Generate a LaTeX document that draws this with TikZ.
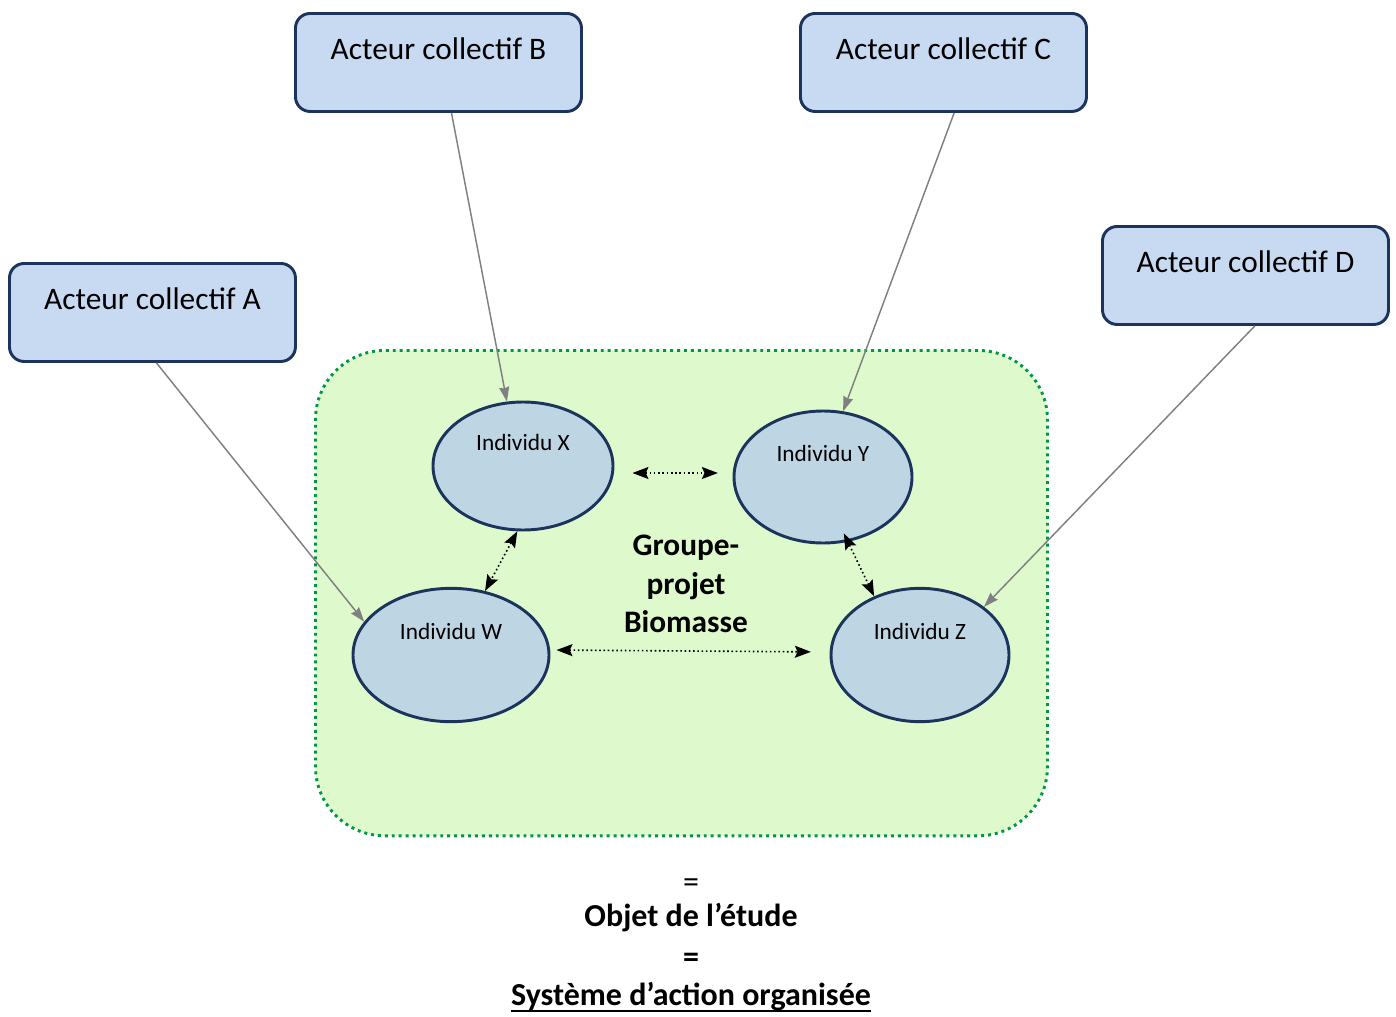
\documentclass[tikz,border=0pt]{standalone}
\usepackage{fontspec}
\setmainfont{Carlito}
\usetikzlibrary{shapes.geometric,arrows.meta}
\definecolor{acteurfill}{RGB}{200,218,242}
\definecolor{indivfill}{RGB}{190,213,228}
\definecolor{navy}{RGB}{28,52,92}
\definecolor{groupefill}{RGB}{222,250,205}
\definecolor{groupeline}{RGB}{0,150,70}
\definecolor{liengris}{RGB}{128,128,128}

\begin{document}
\begin{tikzpicture}[x=0.75pt,y=-0.75pt,
  acteur/.style={draw=navy,line width=2.2pt,fill=acteurfill,rounded corners=11pt,
    minimum width=214.5pt,inner xsep=0pt,inner ysep=0pt,text height=34.5pt,text depth=39pt,
    font=\fontsize{23.5}{28}\selectfont,anchor=north west},
  individu/.style={ellipse,draw=navy,line width=2.2pt,fill=indivfill,inner sep=0pt,
    text height=10pt,text depth=34pt,font=\fontsize{17.5}{21}\selectfont},
  lien/.style={draw=liengris,line width=1.1pt,-{Stealth[length=11pt,width=7.5pt,inset=1pt]}},
  echange/.style={dotted,line width=1.2pt,{Stealth[length=12pt,width=9pt,inset=2pt]}-{Stealth[length=12pt,width=9pt,inset=2pt]}},
  conclusion/.style={font=\bfseries\fontsize{24}{29}\selectfont,anchor=base}
  ]
  \useasboundingbox (0,0) rectangle (1396,1017);
  % groupe-projet
  \node[draw=groupeline,fill=groupefill,line width=2.2pt,dash pattern=on 2.2pt off 3pt,
    rounded corners=52pt,minimum width=549pt,minimum height=364pt,anchor=north west] (groupe) at (314,349) {};
  \node[font=\bfseries\fontsize{23.5}{29}\selectfont,align=center] (nom) at (686,584) {Groupe-\\projet\\Biomasse};
  % individus
  \node[individu,minimum width=135pt,minimum height=96pt] (X) at (523,466) {Individu X};
  \node[individu,minimum width=133.5pt,minimum height=99pt] (Y) at (823,477) {Individu Y};
  \node[individu,minimum width=147pt,minimum height=100pt] (W) at (451,655) {Individu W};
  \node[individu,minimum width=133.5pt,minimum height=100pt] (Z) at (920,655) {Individu Z};
  % acteurs collectifs
  \node[acteur] (B) at (294,12) {Acteur collectif B};
  \node[acteur] (C) at (799,12) {Acteur collectif C};
  \node[acteur] (A) at (8,262) {Acteur collectif A};
  \node[acteur] (D) at (1101,225) {Acteur collectif D};
  \draw[lien] ([xshift=9.75pt]B.south) -- (X.104);
  \draw[lien] ([xshift=8pt]C.south) -- (Y.73);
  \draw[lien] ([xshift=3pt]A.south) -- (W.159);
  \draw[lien] ([xshift=7pt]D.south) -- (Z.37);
  % echanges
  \draw[echange,shorten <=13.5pt,shorten >=11pt] ([yshift=-5.25pt]X.east) -- ([yshift=3pt]Y.west);
  \draw[echange] (X.265) -- (W.62);
  \draw[echange,shorten <=-7pt] (Y.291) -- (Z.128);
  \draw[echange,shorten <=4.5pt,shorten >=14pt] ([yshift=3.75pt]W.east) -- ([yshift=2.25pt]Z.west);
  % conclusion
  \node[conclusion,font=\fontsize{24}{29}\selectfont] (egal1) at (691,892) {=};
  \node[conclusion] (objet) at (691,926) {Objet de l’étude};
  \node[conclusion] (egal2) at (691,967) {=};
  \node[conclusion,inner sep=0pt] (systeme) at (691,1005) {Système d’action organisée};
  \draw[line width=1.5pt] ([yshift=-4.5pt]systeme.base west) -- ([yshift=-4.5pt]systeme.base east);
\end{tikzpicture}
\end{document}
